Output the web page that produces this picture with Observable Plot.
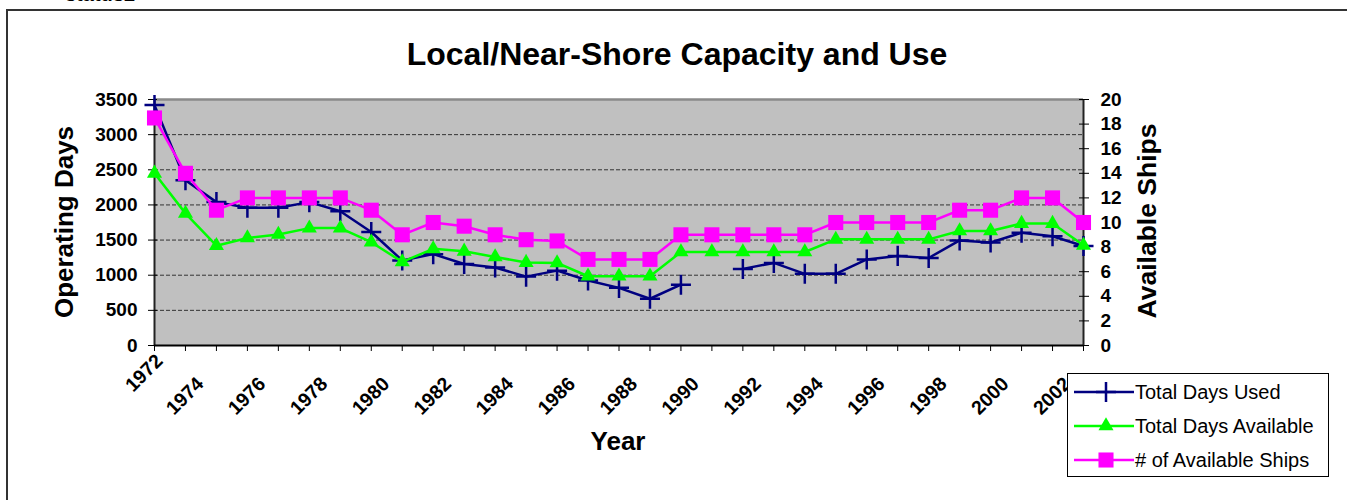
<!DOCTYPE html>
<html>
<head>
<meta charset="utf-8">
<script src="https://cdn.jsdelivr.net/npm/d3@7"></script>
<script src="https://cdn.jsdelivr.net/npm/@observablehq/plot@0.6"></script>
<style>
  html, body { margin: 0; padding: 0; background: #fff; }
  #wrap { position: relative; width: 1347px; height: 500px; overflow: hidden; font-family: "Liberation Sans", Arial, sans-serif; color: #000; }
  #wrap svg { position: absolute; left: 0; top: 0; }
  .lbl { position: absolute; white-space: nowrap; line-height: 1; transform-origin: 50% 50%; }
  #frameBox { position: absolute; left: 6px; top: 9px; width: 1500px; height: 700px; border: 2px solid #333; box-sizing: border-box; }
  #legend { position: absolute; left: 1067px; top: 373px; width: 262px; height: 104px; border: 1px solid #000; background: #fff; box-sizing: border-box; }
</style>
</head>
<body>
<div id="wrap">
  <div id="frameBox"></div>
</div>
<script>
// ---- data ----
const years = [1972,1973,1974,1975,1976,1977,1978,1979,1980,1981,1982,1983,1984,1985,1986,1987,1988,1989,1990,1991,1992,1993,1994,1995,1996,1997,1998,1999,2000,2001,2002];
const totalDaysUsed = [3420,2350,2040,1960,1960,2040,1910,1615,1210,1300,1160,1110,980,1065,925,820,665,865,null,1090,1175,1020,1020,1225,1275,1245,1495,1465,1605,1555,1415];
const totalDaysAvailable = [2450,1880,1420,1530,1580,1670,1670,1470,1190,1375,1340,1260,1180,1175,985,985,985,1330,1330,1330,1330,1330,1510,1510,1510,1510,1630,1630,1735,1735,1425];
const availableShips = [18.5,14,11,12,12,12,12,11,9,10,9.7,9,8.6,8.5,7,7,7,9,9,9,9,9,10,10,10,10,11,11,12,12,10];
const leftTicks = [0,500,1000,1500,2000,2500,3000,3500];
const rightTicks = [0,2,4,6,8,10,12,14,16,18,20];
const gridLines = [500,1000,1500,2000,2500,3000];
const labelYears = [1974,1976,1978,1980,1982,1984,1986,1988,1990,1992,1994,1996,1998,2000,2002];
const firstLabelYear = [1972];
const seriesNames = ["Total Days Used", "Total Days Available", "# of Available Ships"];
const seriesColors = ["#000080", "#00ff00", "#ff00ff"];

const leftMax = 3500, rightMax = 20;
const k = leftMax / rightMax; // secondary axis mapped onto primary scale

const rows = years.map((y, i) => ({
  year: y,
  used: totalDaysUsed[i],
  avail: totalDaysAvailable[i],
  ships: availableShips[i] * k
}));

const font = "'Liberation Sans', Arial, sans-serif";

const chart = Plot.plot({
  width: 1347,
  height: 500,
  marginLeft: 154,
  marginRight: 264,
  marginTop: 99,
  marginBottom: 155,
  style: { fontFamily: font, fontSize: "19px", fontWeight: "bold", background: "transparent", overflow: "visible" },
  x: { type: "linear", domain: [1972, 2002] },
  y: { type: "linear", domain: [0, leftMax] },
  marks: [
    Plot.frame({ fill: "#c0c0c0", stroke: null }),
    Plot.ruleY(gridLines, { stroke: "#333", strokeWidth: 1, strokeDasharray: "4,2" }),
    Plot.ruleY([leftMax], { stroke: "#8a8a8a", strokeWidth: 2.5 }),
    Plot.ruleX([1972], { stroke: "#222", strokeWidth: 2 }),
    Plot.ruleX([2002], { stroke: "#222", strokeWidth: 2 }),
    Plot.ruleY([0], { stroke: "#000", strokeWidth: 2 }),
    Plot.axisY({ anchor: "left", ticks: leftTicks, tickSize: 9, dx: 3, tickPadding: 11, tickFormat: d => String(d), fontSize: 19, fontWeight: "bold", label: null }),
    Plot.axisY({ anchor: "right", ticks: rightTicks.map(v => v * k), tickSize: 10, dx: -5, tickPadding: 12, tickFormat: d => String(Math.round(d / k)), fontSize: 19, fontWeight: "bold", label: null }),
    Plot.axisX({ ticks: years, tickSize: 6, tickFormat: () => "", label: null }),
    Plot.text(labelYears, { x: d => d, frameAnchor: "bottom", text: d => String(d), rotate: -45, textAnchor: "middle", dx: -27, dy: 55, fontSize: 19.5, fontWeight: "bold" }),
    Plot.text(firstLabelYear, { x: d => d, frameAnchor: "bottom", text: d => String(d), rotate: -45, textAnchor: "middle", dx: -6, dy: 32, fontSize: 19.5, fontWeight: "bold" }),
    // Total Days Used
    Plot.line(rows, { x: "year", y: "used", stroke: seriesColors[0], strokeWidth: 2.5 }),
    Plot.dot(rows.filter(d => d.used != null), { x: "year", y: "used", symbol: "plus", r: 6.5, stroke: seriesColors[0], strokeWidth: 2.5 }),
    // Total Days Available
    Plot.line(rows, { x: "year", y: "avail", stroke: seriesColors[1], strokeWidth: 2.5 }),
    Plot.dot(rows, { x: "year", y: "avail", symbol: "triangle", r: 5.6, fill: seriesColors[1] }),
    // # of Available Ships (secondary axis)
    Plot.line(rows, { x: "year", y: "ships", stroke: seriesColors[2], strokeWidth: 2.5 }),
    Plot.dot(rows, { x: "year", y: "ships", symbol: "square", r: 8.5, fill: seriesColors[2] })
  ]
});

const wrap = document.getElementById("wrap");
wrap.appendChild(chart);

function label(text, cx, cy, size, weight, rotate) {
  const d = document.createElement("div");
  d.className = "lbl";
  d.textContent = text;
  d.style.left = cx + "px";
  d.style.top = cy + "px";
  d.style.fontSize = size + "px";
  d.style.fontWeight = weight;
  d.style.transform = "translate(-50%,-50%)" + (rotate ? ` rotate(${rotate}deg)` : "");
  wrap.appendChild(d);
  return d;
}

label("status2", 100, -6, 20, "bold", 0);
label("Local/Near-Shore Capacity and Use", 677, 54, 32, "bold", 0);
label("Operating Days", 64, 222, 26, "bold", -90);
label("Available Ships", 1147, 221, 26.5, "bold", -90);
label("Year", 618, 441, 26, "bold", 0);

// legend
const legend = document.createElement("div");
legend.id = "legend";
wrap.appendChild(legend);
const symbols = [d3.symbolPlus, d3.symbolTriangle, d3.symbolSquare];
const symSizes = [Math.PI * 6.5 * 6.5, Math.PI * 5.6 * 5.6, Math.PI * 8.5 * 8.5];
seriesNames.forEach((name, i) => {
  const cy = 18 + i * 34;
  const svg = d3.select(legend).append("svg")
    .attr("width", 70).attr("height", 24)
    .style("position", "absolute").style("left", "4px").style("top", (cy - 12) + "px");
  svg.append("line").attr("x1", 2).attr("x2", 62).attr("y1", 12).attr("y2", 12)
    .attr("stroke", seriesColors[i]).attr("stroke-width", 2.5);
  const p = svg.append("path").attr("transform", "translate(34,12)")
    .attr("d", d3.symbol(symbols[i], symSizes[i])());
  if (i === 0) p.attr("fill", "none").attr("stroke", seriesColors[i]).attr("stroke-width", 2.5);
  else p.attr("fill", seriesColors[i]);
  const t = document.createElement("div");
  t.className = "lbl";
  t.textContent = name;
  t.style.left = "67px";
  t.style.top = (cy - 10) + "px";
  t.style.fontSize = "20px";
  t.style.fontWeight = "normal";
  legend.appendChild(t);
});
</script>
</body>
</html>
